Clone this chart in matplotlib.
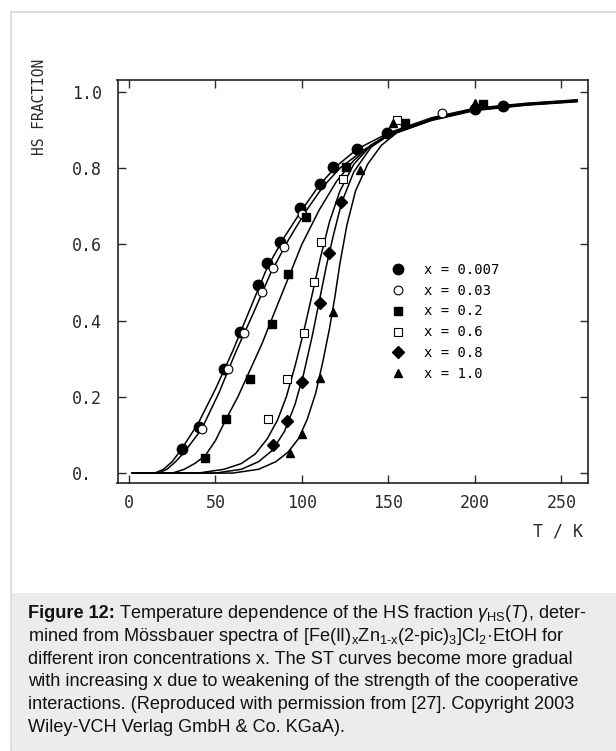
import numpy as np
import matplotlib.pyplot as plt
from matplotlib.patches import Rectangle

plt.rcParams["mathtext.fontset"] = "custom"
plt.rcParams["mathtext.rm"] = "Liberation Sans"
plt.rcParams["mathtext.it"] = "Liberation Sans:italic"
plt.rcParams["mathtext.bf"] = "Liberation Sans:bold"

# measured points, one pair of arrays per iron concentration
labels = ["x = 0.007", "x = 0.03", "x = 0.2", "x = 0.6", "x = 0.8", "x = 1.0"]

t_007 = [30.5, 40.3, 54.9, 64.2, 74.8, 80.0, 87.3, 98.9, 110.4, 118.1, 132.0, 149.3, 200.0, 216.4]
y_007 = [0.063, 0.120, 0.273, 0.369, 0.493, 0.550, 0.606, 0.696, 0.759, 0.804, 0.850, 0.891, 0.955, 0.963]

t_003 = [42.0, 57.4, 66.5, 76.9, 83.3, 89.8, 100.0, 180.8]
y_003 = [0.115, 0.272, 0.367, 0.474, 0.537, 0.592, 0.680, 0.944]

t_02 = [43.9, 56.1, 70.1, 82.7, 91.7, 102.3, 125.3, 159.6, 204.5]
y_02 = [0.040, 0.143, 0.246, 0.390, 0.521, 0.671, 0.804, 0.918, 0.968]

t_06 = [80.4, 91.5, 101.0, 106.8, 110.8, 123.9, 155.1]
y_06 = [0.143, 0.248, 0.368, 0.501, 0.605, 0.771, 0.927]

t_08 = [83.1, 91.5, 100.2, 110.4, 115.6, 122.8]
y_08 = [0.073, 0.136, 0.238, 0.447, 0.576, 0.711]

t_10 = [93.1, 100.2, 110.4, 117.8, 133.6, 152.8, 200.0]
y_10 = [0.053, 0.102, 0.250, 0.422, 0.795, 0.918, 0.970]

# fitted curves
ct_007 = [2, 15, 20, 25, 30, 40, 50, 60, 70, 80, 90, 100, 110, 120, 132, 150, 175, 200, 230, 259]
cy_007 = [0.0, 0.0, 0.01, 0.03, 0.06, 0.13, 0.22, 0.32, 0.43, 0.54, 0.62, 0.69, 0.755, 0.805, 0.85, 0.892, 0.932, 0.957, 0.970, 0.979]

ct_003 = [2, 17, 22, 27, 32, 42, 52, 62, 72, 82, 92, 102, 112, 122, 135, 150, 175, 200, 230, 259]
cy_003 = [0.0, 0.0, 0.01, 0.03, 0.055, 0.115, 0.21, 0.32, 0.42, 0.525, 0.61, 0.685, 0.75, 0.80, 0.845, 0.889, 0.930, 0.956, 0.969, 0.978]

ct_02 = [2, 25, 32, 38, 44, 50, 56, 63, 70, 77, 84, 92, 100, 110, 120, 130, 140, 150, 175, 200, 230, 259]
cy_02 = [0.0, 0.0, 0.01, 0.025, 0.045, 0.085, 0.14, 0.2, 0.27, 0.34, 0.42, 0.51, 0.6, 0.69, 0.765, 0.82, 0.86, 0.887, 0.928, 0.954, 0.968, 0.977]

ct_06 = [2, 40, 55, 65, 73, 80, 86, 91, 96, 101, 106, 111, 116, 122, 130, 140, 150, 175, 200, 230, 259]
cy_06 = [0.0, 0.0, 0.01, 0.025, 0.05, 0.09, 0.14, 0.2, 0.28, 0.37, 0.47, 0.57, 0.66, 0.74, 0.81, 0.86, 0.886, 0.927, 0.953, 0.967, 0.976]

ct_08 = [2, 50, 65, 75, 83, 90, 96, 101, 106, 110, 114, 118, 123, 130, 140, 150, 175, 200, 230, 259]
cy_08 = [0.0, 0.0, 0.01, 0.03, 0.06, 0.11, 0.18, 0.26, 0.36, 0.45, 0.54, 0.62, 0.71, 0.79, 0.855, 0.885, 0.926, 0.952, 0.966, 0.975]

ct_10 = [2, 60, 75, 85, 92, 98, 103, 108, 112, 116, 119, 122, 126, 131, 138, 146, 155, 175, 200, 230, 259]
cy_10 = [0.0, 0.0, 0.01, 0.03, 0.055, 0.09, 0.14, 0.21, 0.29, 0.38, 0.46, 0.55, 0.65, 0.74, 0.81, 0.86, 0.893, 0.925, 0.951, 0.965, 0.974]

series = [
    (t_007, y_007, ct_007, cy_007, dict(marker="o", ms=7.5, mfc="black", mec="black")),
    (t_003, y_003, ct_003, cy_003, dict(marker="o", ms=6.3, mfc="white", mec="black", mew=0.8)),
    (t_02, y_02, ct_02, cy_02, dict(marker="s", ms=6.3, mfc="black", mec="black")),
    (t_06, y_06, ct_06, cy_06, dict(marker="s", ms=6.3, mfc="white", mec="black", mew=0.8)),
    (t_08, y_08, ct_08, cy_08, dict(marker="D", ms=6.3, mfc="black", mec="black")),
    (t_10, y_10, ct_10, cy_10, dict(marker="^", ms=6.3, mfc="black", mec="black")),
]

fig = plt.figure(figsize=(6.16, 7.51), dpi=100)

# page frame and caption box
fig.patches.append(Rectangle((11 / 616, 0), 1, 1 - 12 / 751, transform=fig.transFigure,
                             facecolor="white", edgecolor="#d8d8d8", lw=1.2, zorder=-2))
fig.patches.append(Rectangle((12 / 616, 0), 1, 1 - 593 / 751, transform=fig.transFigure,
                             facecolor="#ececec", edgecolor="none", zorder=-1))

ax = fig.add_axes([117.5 / 616, 1 - 483 / 751, 470.5 / 616, 403 / 751])
ax.set_zorder(2)

handles = []
for t, y, ct, cy, style in series:
    ax.plot(ct, cy, color="black", lw=1.1, zorder=2)
    h, = ax.plot(t, y, ls="none", zorder=3, **style)
    handles.append(h)

ax.set_xlim(-6.6, 265.4)
ax.set_ylim(-0.026, 1.031)
ax.set_xticks([0, 50, 100, 150, 200, 250])
ax.set_yticks([0, 0.2, 0.4, 0.6, 0.8, 1.0])
ax.set_xticklabels(["0", "50", "100", "150", "200", "250"])
ax.set_yticklabels(["0.", "0.2", "0.4", "0.6", "0.8", "1.0"], ha="left")
ax.tick_params(direction="in", length=6, width=1.0, top=True, right=True,
               labelsize=12, colors="#2a2a2a", pad=8)
ax.tick_params(axis="y", pad=33)
for lab in ax.get_xticklabels() + ax.get_yticklabels():
    lab.set_family("DejaVu Sans Mono")
for sp in ax.spines.values():
    sp.set_linewidth(1.2)
    sp.set_color("#222222")

fig.text(40 / 616, 1 - 107 / 751, "HS FRACTION", rotation=90, ha="center", va="center",
         family="DejaVu Sans Mono", fontsize=10.5, color="#2a2a2a")
fig.text(583 / 616, 1 - 532 / 751, "T / K", ha="right", va="center",
         family="DejaVu Sans Mono", fontsize=12, color="#2a2a2a")

ax.legend(handles, labels, loc="upper left", bbox_to_anchor=(0.555, 0.578), frameon=False,
          handlelength=1.0, handletextpad=1.35, labelspacing=0.5,
          prop={"family": "DejaVu Sans Mono", "size": 10})

caption = [
    r"Temperature dependence of the HS fraction $\mathit{\gamma}_{\mathrm{HS}}(\mathit{T})$, deter-",
    r"mined from Mössbauer spectra of [Fe(II)$_{\mathrm{x}}$Zn$_{\mathrm{1\text{-}x}}$(2-pic)$_{\mathrm{3}}$]Cl$_{\mathrm{2}}$·EtOH for",
    "different iron concentrations x. The ST curves become more gradual",
    "with increasing x due to weakening of the strength of the cooperative",
    "interactions. (Reproduced with permission from [27]. Copyright 2003",
    "Wiley-VCH Verlag GmbH & Co. KGaA).",
]
cap_font = dict(family="Liberation Sans", fontsize=13.1, color="#111111")
base0 = 618.5
head = fig.text(28 / 616, 1 - base0 / 751, "Figure 12:", ha="left", va="baseline",
                fontweight="bold", **cap_font)
renderer = fig.canvas.get_renderer()
head_box = head.get_window_extent(renderer)
fig.text(head_box.x1 / fig.bbox.width + 4 / 616, 1 - base0 / 751, caption[0],
         ha="left", va="baseline", **cap_font)
for i, line in enumerate(caption[1:], start=1):
    fig.text(28 / 616, 1 - (base0 + 22.6 * i) / 751, line, ha="left", va="baseline", **cap_font)

fig.savefig("out.png", dpi=100)
